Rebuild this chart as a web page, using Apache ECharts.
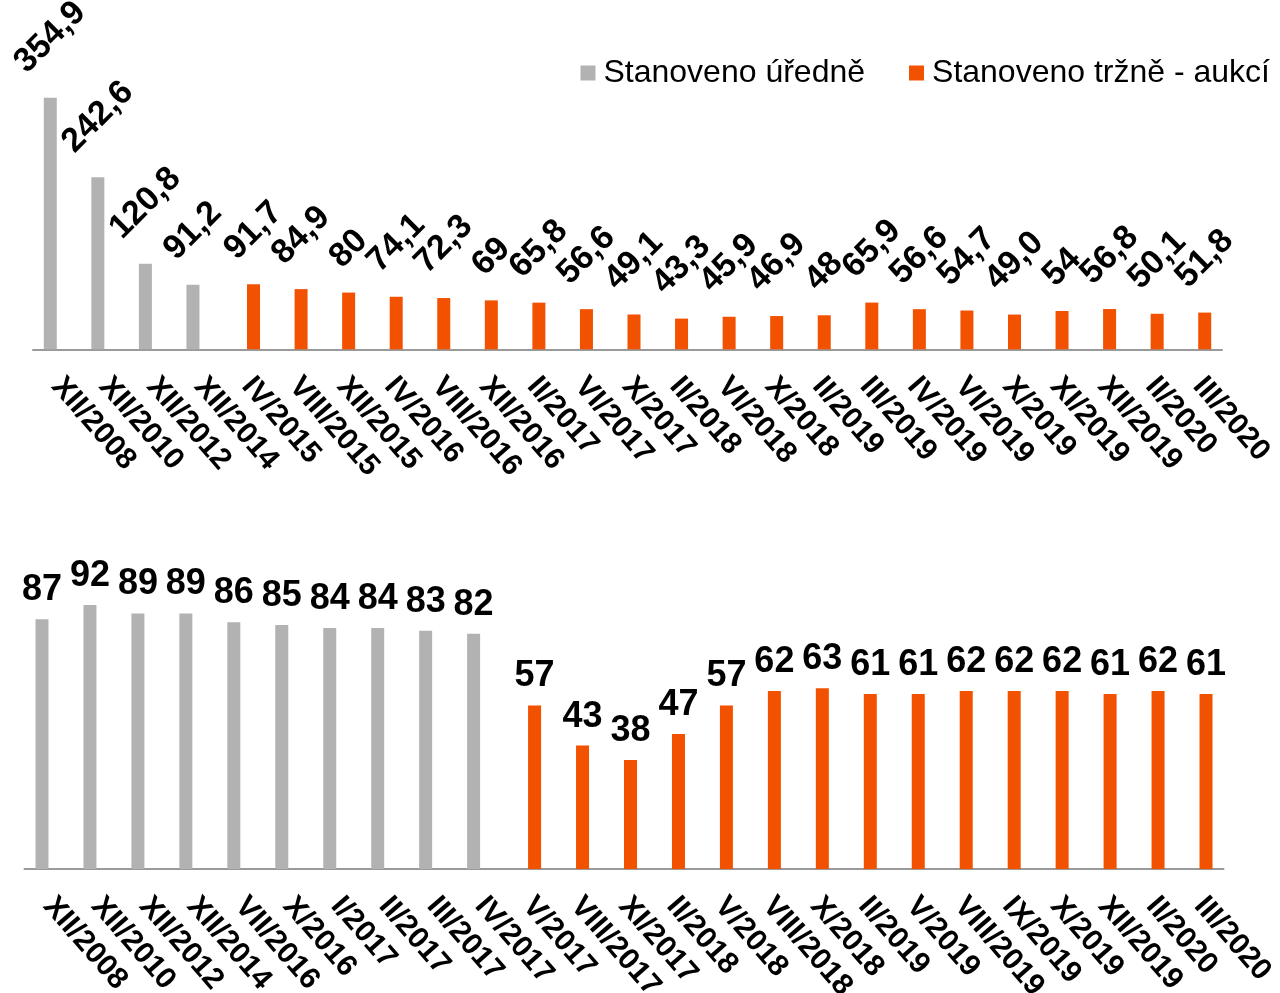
<!DOCTYPE html>
<html lang="cs">
<head>
<meta charset="utf-8">
<title>Stanoveno úředně / tržně</title>
<script src="https://cdn.jsdelivr.net/npm/echarts@6/dist/echarts.min.js"></script>
<style>
  html, body { margin: 0; padding: 0; background: #ffffff; }
  #chart { width: 1280px; height: 993px; }
</style>
</head>
<body>
<div id="chart"></div>
<script>
// Upper panel: categories and values (Czech decimal notation, as printed)
const topCategories = ['XII/2008', 'XII/2010', 'XII/2012', 'XII/2014', 'IV/2015', 'VIII/2015', 'XII/2015',
  'IV/2016', 'VIII/2016', 'XII/2016', 'II/2017', 'VI/2017', 'X/2017', 'II/2018', 'VI/2018', 'X/2018',
  'II/2019', 'III/2019', 'IV/2019', 'VI/2019', 'X/2019', 'XI/2019', 'XII/2019', 'II/2020', 'III/2020'];
const topOfficial = ['354,9', '242,6', '120,8', '91,2'];
const topMarket = ['91,7', '84,9', '80', '74,1', '72,3', '69', '65,8', '56,6', '49,1', '43,3', '45,9',
  '46,9', '48', '65,9', '56,6', '54,7', '49,0', '54', '56,8', '50,1', '51,8'];

// Lower panel
const bottomCategories = ['XII/2008', 'XII/2010', 'XII/2012', 'XII/2014', 'VII/2016', 'X/2016', 'I/2017',
  'II/2017', 'III/2017', 'IV/2017', 'V/2017', 'VIII/2017', 'XI/2017', 'II/2018', 'V/2018', 'VIII/2018',
  'X/2018', 'II/2019', 'V/2019', 'VIII/2019', 'IX/2019', 'X/2019', 'XII/2019', 'II/2020', 'III/2020'];
const bottomOfficial = ['87', '92', '89', '89', '86', '85', '84', '84', '83', '82'];
const bottomMarket = ['57', '43', '38', '47', '57', '62', '63', '61', '61', '62', '62', '62', '61', '62', '61'];

const seriesNames = ['Stanoveno úředně', 'Stanoveno tržně - aukcí'];
const GRAY = '#b2b2b2';
const ORANGE = '#f25100';
const FONT = '"Liberation Sans", Arial, sans-serif';

const toNum = s => parseFloat(s.replace(',', '.'));

// Rotated value labels of the upper panel sit centred over the bar;
// longer strings need to be lifted further so their lower end clears the bar.
const TOP_LABEL_SIZE = 34;
function rotatedDistance(text) {
  let w = 0;
  for (const ch of text) w += (ch === ',' ? 0.278 : 0.556) * TOP_LABEL_SIZE;
  return 21 + 0.354 * (w + 26);
}

function topItem(text) {
  return {
    value: toNum(text),
    label: { distance: rotatedDistance(text) }
  };
}

// Official values fill the first categories, market values the rest
function buildColumn(official, market, total, pick, item) {
  const out = [];
  for (let i = 0; i < total; i++) {
    if (pick === 'official') out.push(i < official.length ? item(official[i]) : '-');
    else out.push(i >= official.length ? item(market[i - official.length]) : '-');
  }
  return out;
}

// Labels show the printed text (e.g. "49,0") of the value each bar is drawn from
function labelFrom(list, offset) {
  return p => list[p.dataIndex - offset];
}

const topLabel = {
  show: true,
  position: 'top',
  rotate: 45,
  align: 'center',
  verticalAlign: 'middle',
  fontFamily: FONT,
  fontWeight: 'bold',
  fontSize: TOP_LABEL_SIZE,
  color: '#000'
};

const bottomLabel = {
  show: true,
  position: 'top',
  distance: 11,
  fontFamily: FONT,
  fontWeight: 'bold',
  fontSize: 36,
  color: '#000'
};

const axisCommon = {
  type: 'category',
  axisLine: { lineStyle: { color: '#9a9a9a', width: 2 } },
  axisTick: { show: false },
  axisLabel: {
    interval: 0,
    rotate: -49,
    margin: 32,
    fontFamily: FONT,
    fontWeight: 'bold',
    fontSize: 30,
    color: '#000'
  }
};

const valueAxis = { type: 'value', min: 0, show: false, splitLine: { show: false } };

const option = {
  animation: false,
  backgroundColor: '#ffffff',
  textStyle: { fontFamily: FONT },
  legend: {
    data: seriesNames,
    top: 52,
    right: 5,
    itemWidth: 15,
    itemHeight: 15,
    itemGap: 44,
    icon: 'rect',
    textStyle: { fontFamily: FONT, fontSize: 32, color: '#000', padding: [0, 0, 0, 3] }
  },
  grid: [
    { left: 33, width: 1189, top: 65.7, height: 283.6, containLabel: false, outerBoundsMode: 'none' },
    { left: 24.5, width: 1199, top: 582, height: 287, containLabel: false, outerBoundsMode: 'none' }
  ],
  xAxis: [
    Object.assign({ gridIndex: 0, data: topCategories }, axisCommon),
    Object.assign({ gridIndex: 1, data: bottomCategories }, axisCommon)
  ],
  yAxis: [
    Object.assign({ gridIndex: 0, max: 400 }, valueAxis),
    Object.assign({ gridIndex: 1, max: 100 }, valueAxis)
  ],
  series: [
    {
      name: seriesNames[0], type: 'bar', xAxisIndex: 0, yAxisIndex: 0,
      barWidth: 13, barGap: '0%',
      itemStyle: { color: GRAY },
      label: Object.assign({}, topLabel, { formatter: labelFrom(topOfficial, 0) }),
      data: buildColumn(topOfficial, topMarket, topCategories.length, 'official', topItem)
    },
    {
      name: seriesNames[1], type: 'bar', xAxisIndex: 0, yAxisIndex: 0,
      barWidth: 13, barGap: '0%',
      itemStyle: { color: ORANGE },
      label: Object.assign({}, topLabel, { formatter: labelFrom(topMarket, topOfficial.length) }),
      data: buildColumn(topOfficial, topMarket, topCategories.length, 'market', topItem)
    },
    {
      name: seriesNames[0], type: 'bar', xAxisIndex: 1, yAxisIndex: 1,
      barWidth: 13, barGap: '0%',
      itemStyle: { color: GRAY },
      label: Object.assign({}, bottomLabel, { formatter: labelFrom(bottomOfficial, 0) }),
      data: buildColumn(bottomOfficial, bottomMarket, bottomCategories.length, 'official', toNum)
    },
    {
      name: seriesNames[1], type: 'bar', xAxisIndex: 1, yAxisIndex: 1,
      barWidth: 13, barGap: '0%',
      itemStyle: { color: ORANGE },
      label: Object.assign({}, bottomLabel, { formatter: labelFrom(bottomMarket, bottomOfficial.length) }),
      data: buildColumn(bottomOfficial, bottomMarket, bottomCategories.length, 'market', toNum)
    }
  ]
};

const chart = echarts.init(document.getElementById('chart'), null, { renderer: 'canvas' });
chart.setOption(option);
</script>
</body>
</html>
